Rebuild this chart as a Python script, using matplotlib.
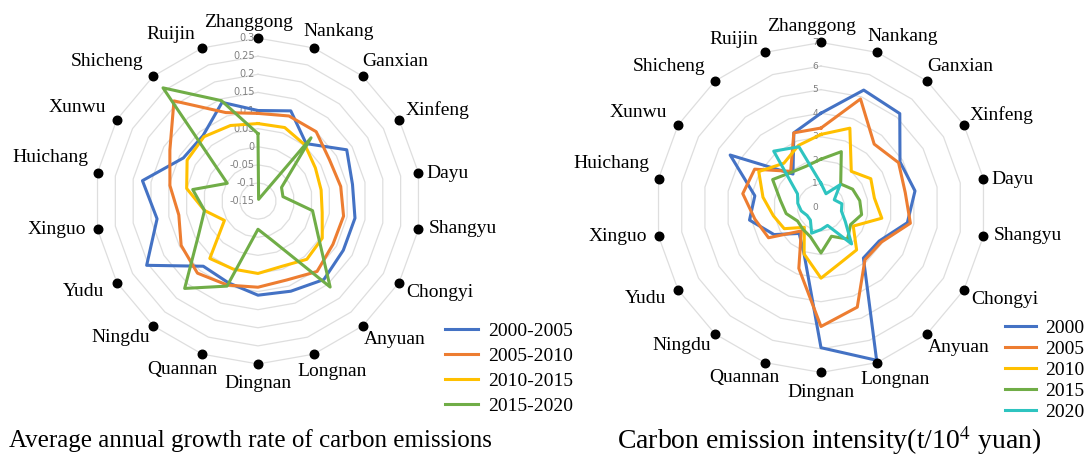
import numpy as np
import matplotlib.pyplot as plt

# counties, clockwise from the top
counties = ['Zhanggong', 'Nankang', 'Ganxian', 'Xinfeng', 'Dayu', 'Shangyu',
            'Chongyi', 'Anyuan', 'Longnan', 'Dingnan', 'Quannan', 'Ningdu',
            'Yudu', 'Xinguo', 'Huichang', 'Xunwu', 'Shicheng', 'Ruijin']

# average annual growth rate of carbon emissions
periods = ['2000-2005', '2005-2010', '2010-2015', '2015-2020']
growth_2000_2005 = [0.100, 0.115, 0.057, 0.133, 0.115, 0.122, 0.122, 0.133, 0.115,
                    0.110, 0.090, 0.085, 0.205, 0.133, 0.174, 0.088, 0.086, 0.140]
growth_2005_2010 = [0.092, 0.100, 0.100, 0.078, 0.082, 0.090, 0.089, 0.104, 0.082,
                    0.088, 0.097, 0.110, 0.095, 0.072, 0.097, 0.131, 0.211, 0.110]
growth_2010_2015 = [0.064, 0.066, 0.052, 0.033, 0.027, 0.030, 0.055, 0.060, 0.042,
                    0.050, 0.050, 0.057, -0.043, 0.000, 0.050, 0.076, 0.082, 0.072]
growth_2015_2020 = [0.036, -0.145, 0.078, -0.075, -0.080, 0.003, 0.042, 0.160, -0.034,
                    -0.072, 0.100, 0.165, 0.040, 0.000, 0.033, -0.052, 0.258, 0.145]

# carbon emission intensity (t/10^4 yuan)
years = ['2000', '2005', '2010', '2015', '2020']
intensity_2000 = [4.00, 5.30, 5.20, 3.87, 4.05, 3.72, 2.85, 2.80, 6.90,
                  5.95, 2.10, 1.44, 2.30, 3.08, 2.85, 4.45, 1.85, 3.37]
intensity_2005 = [3.37, 4.90, 3.51, 3.80, 3.63, 3.85, 2.95, 2.90, 4.50,
                  5.05, 2.75, 1.30, 2.57, 2.85, 3.37, 3.25, 2.00, 3.37]
intensity_2010 = [3.10, 3.58, 2.00, 2.44, 2.30, 2.62, 1.58, 2.35, 2.48,
                  3.00, 2.10, 1.10, 1.80, 2.05, 2.50, 3.05, 2.45, 2.80]
intensity_2015 = [2.05, 2.52, 1.30, 1.55, 1.67, 1.75, 1.45, 1.75, 1.30,
                  1.93, 1.32, 1.20, 1.15, 1.50, 1.75, 2.37, 1.95, 1.86]
intensity_2020 = [1.02, 0.62, 1.26, 0.65, 0.90, 0.88, 1.19, 2.02, 0.81,
                  0.94, 1.16, 0.70, 0.68, 0.85, 1.00, 1.15, 3.12, 2.74]

colors = ['#4472C4', '#ED7D31', '#FFC000', '#70AD47', '#2EC4C0']

# label offsets from the dots, in pixels (x right, y down)
label_offsets = [(-9, -16), (25, -16), (33, -15), (38, -10), (29, 1), (44, -1),
                 (41, 10), (32, 14), (18, 17), (0, 20), (-20, 15), (-33, 12),
                 (-33, 9), (-41, 0), (-47, -15), (-40, -12), (-46, -15), (-31, -13)]

plt.rcParams['font.family'] = ['Liberation Serif', 'DejaVu Serif']
plt.rcParams['mathtext.fontset'] = 'stix'

fig = plt.figure(figsize=(10.89, 4.59), dpi=100)

n = len(counties)
theta = np.linspace(0, 2 * np.pi, n, endpoint=False)
theta_c = np.append(theta, theta[0])


def radar(rect, series, names, rmin, rmax, step, tick_size):
    ax = fig.add_axes(rect, projection='polar')
    ax.set_theta_zero_location('N')
    ax.set_theta_direction(-1)
    ax.set_ylim(rmin, rmax)
    ax.set_axis_off()

    # polygon grid rings
    levels = np.arange(rmin, rmax + step / 2, step)
    for lv in levels[1:]:
        ax.plot(theta_c, [lv] * (n + 1), color='#dedede', lw=0.9, zorder=0)
    for lv in levels:
        v = round(lv, 2)
        txt = '0' if abs(v) < 1e-9 else f'{v:g}'
        ax.annotate(txt, (0, lv), xytext=(-3, 0), textcoords='offset pixels',
                    ha='right', va='center', fontsize=tick_size, color='#808080',
                    family='DejaVu Sans', zorder=1)

    lines = []
    for vals, name, c in zip(series, names, colors):
        ln, = ax.plot(theta_c, np.append(vals, vals[0]), color=c, lw=2.2,
                      label=name, zorder=3)
        lines.append(ln)

    ax.scatter(theta, [rmax] * n, s=38, color='black', zorder=5, clip_on=False)
    for t, name, (ox, oy) in zip(theta, counties, label_offsets):
        ax.annotate(name, (t, rmax), xytext=(ox, -oy), textcoords='offset pixels',
                    ha='center', va='center', fontsize=14, annotation_clip=False)
    return ax, lines


ax1, lines1 = radar([0.0872, 0.207, 0.2994, 0.71],
                    [growth_2000_2005, growth_2005_2010, growth_2010_2015, growth_2015_2020],
                    periods, -0.15, 0.3, 0.05, 7)
ax2, lines2 = radar([0.6024, 0.1885, 0.303, 0.719],
                    [intensity_2000, intensity_2005, intensity_2010, intensity_2015, intensity_2020],
                    years, 0, 7, 1, 6.5)

fig.legend(handles=lines1, loc='upper left', bbox_to_anchor=(445 / 1089, 1 - 322 / 459),
           frameon=False, fontsize=14, handlelength=1.7, handletextpad=0.5,
           labelspacing=0.38, borderpad=0, borderaxespad=0)
fig.legend(handles=lines2, loc='upper left', bbox_to_anchor=(1005 / 1089, 1 - 319 / 459),
           frameon=False, fontsize=14, handlelength=1.6, handletextpad=0.45,
           labelspacing=0.18, borderpad=0, borderaxespad=0)

fig.text(250 / 1089, 1 - 441 / 459, 'Average annual growth rate of carbon emissions',
         ha='center', va='center', fontsize=18)
fig.text(829 / 1089, 1 - 441 / 459, 'Carbon emission intensity(t/10$^{4}$ yuan)',
         ha='center', va='center', fontsize=20)

fig.savefig('out.png', dpi=100)
